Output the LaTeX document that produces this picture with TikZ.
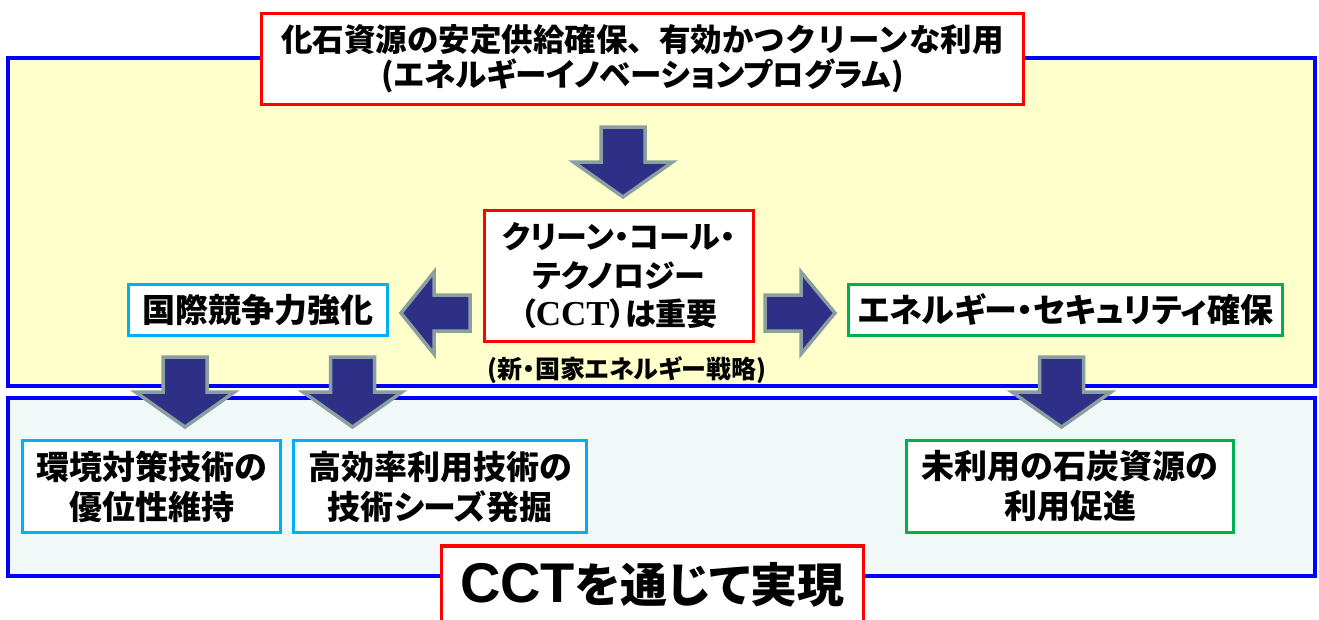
\documentclass[tikz,border=0pt]{standalone}
\usepackage{fontspec}
\newfontfamily\jp[RawFeature=+palt]{Noto Sans CJK JP}
\newfontfamily\jpfull{Noto Sans CJK JP}
\newfontfamily\tnr{Liberation Serif}
\newfontfamily\arialf{Liberation Sans}
\definecolor{bblue}{HTML}{0000FF}
\definecolor{rred}{HTML}{FF0000}
\definecolor{ccyan}{HTML}{00B0F0}
\definecolor{ggreen}{HTML}{00B050}
\definecolor{yfill}{HTML}{FFFFCC}
\definecolor{lbfill}{HTML}{F0F8F8}
\definecolor{anavy}{HTML}{2E3087}
\definecolor{agray}{HTML}{8A9FA0}
\tikzset{
  panel/.style={draw=bblue, line width=3.5pt},
  box/.style={draw, fill=white, line width=3.5pt, inner sep=0pt, align=center, font=\jp\bfseries},
  redbox/.style={box, draw=rred},
  cyanbox/.style={box, draw=ccyan},
  greenbox/.style={box, draw=ggreen},
  blockarr/.style={fill=anavy, draw=agray, line width=3.5pt, line join=miter},
}
\newcommand\downblk[2]{%
  \draw[blockarr] ({#1-22},{#2}) -- ({#1+22},{#2}) -- ({#1+22},{#2+35}) -- ({#1+49.5},{#2+35})
    -- ({#1},{#2+70}) -- ({#1-49.5},{#2+35}) -- ({#1-22},{#2+35}) -- cycle;}
\begin{document}
\begin{tikzpicture}[x=1pt,y=-1pt]
\useasboundingbox (0,0) rectangle (1319,619);
% background panels
\draw[panel, fill=yfill] (8,58) rectangle (1315,386);
\draw[panel, fill=lbfill] (8,398) rectangle (1315,576);
% block arrows
\downblk{623}{127}
\downblk{185}{357}
\downblk{352.5}{357}
\downblk{1061.5}{357}
\draw[blockarr] (401,313) -- (434,272) -- (434,295) -- (470,295) -- (470,331) -- (434,331) -- (434,354) -- cycle;
\draw[blockarr] (835,313) -- (801,272) -- (801,295) -- (765,295) -- (765,331) -- (801,331) -- (801,354) -- cycle;
% nodes
\node[redbox, minimum width=762, minimum height=91, font=\jp\bfseries\fontsize{31.5}{35}\selectfont] (top) at (642.5,59)
  {{\jpfull\bfseries 化石資源の安定供給確保、有効かつクリーンな利用}\\(エネルギーイノベーションプログラム)};
\node[redbox, minimum width=269, minimum height=131, font=\jp\bfseries\fontsize{31}{38.5}\selectfont] (cct) at (619,276)
  {クリーン・コール・\\テクノロジー\\（{\tnr\bfseries\fontsize{35}{38.5}\selectfont CCT}）は重要};
\node[font=\jp\bfseries\fontsize{25}{28}\selectfont] (strategy) at (627,370) {(新・国家エネルギー戦略)};
\node[cyanbox, minimum width=259, minimum height=51, font=\jp\bfseries\fontsize{33}{40}\selectfont] (kokusai) at (258,310) {国際競争力強化};
\node[greenbox, minimum width=434, minimum height=51, font=\jp\bfseries\fontsize{33}{40}\selectfont] (energy) at (1065.5,310) {エネルギー・セキュリティ確保};
\node[cyanbox, minimum width=258, minimum height=92, font=\jp\bfseries\fontsize{33}{40}\selectfont] (kankyo) at (151.5,486.5) {環境対策技術の\\優位性維持};
\node[cyanbox, minimum width=293, minimum height=92, font=\jp\bfseries\fontsize{33}{40}\selectfont] (koukou) at (440,486.5) {高効率利用技術の\\技術シーズ発掘};
\node[greenbox, minimum width=327, minimum height=92, font=\jp\bfseries\fontsize{33}{40}\selectfont] (miriyou) at (1070,486.5) {未利用の石炭資源の\\利用促進};
\node[redbox, minimum width=422, minimum height=78, font=\jp\bfseries\fontsize{47}{50}\selectfont] (bottom) at (652.5,585)
  {{\arialf\bfseries\fontsize{56}{60}\selectfont CCT}を通じて実現};
\end{tikzpicture}
\end{document}
